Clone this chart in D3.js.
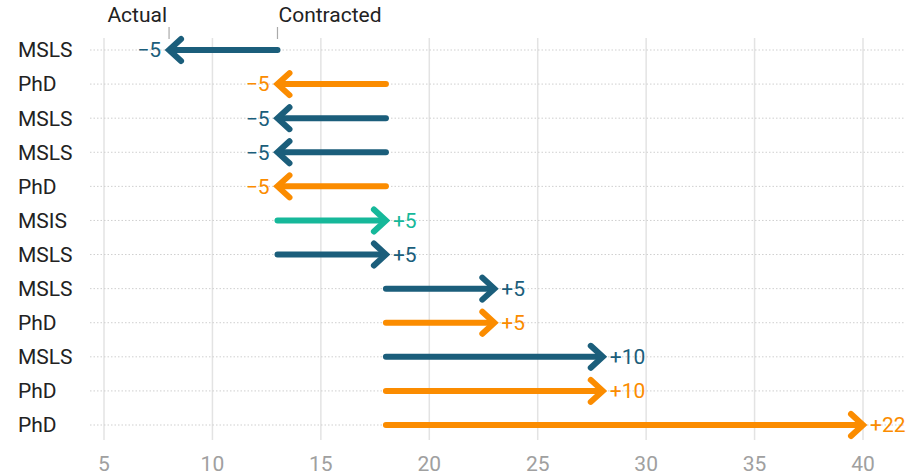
<!DOCTYPE html>
<html><head><meta charset="utf-8">
<script src="https://cdn.jsdelivr.net/npm/d3@7"></script>
<style>body{margin:0;background:#fff;font-family:Roboto,sans-serif;}</style>
</head><body><svg id="c" width="923" height="475"></svg>
<script>
const programs = ["MSLS","PhD","MSLS","MSLS","PhD","MSIS","MSLS","MSLS","PhD","MSLS","PhD","PhD"];
const contracted = [13,18,18,18,18,13,13,18,18,18,18,18];
const actual = [8,13,13,13,13,18,18,23,23,28,28,40];
const xTicks = [5,10,15,20,25,30,35,40];
const colors = {MSLS:"#1b5e7b", PhD:"#fb8c00", MSIS:"#16b89a"};
const FS = 21;

const svg = d3.select("#c");
const x = d3.scaleLinear().domain([5,40]).range([104,863]);
const y = d3.scalePoint().domain(d3.range(programs.length)).range([50,425]);

// vertical grid
svg.append("g").selectAll("line").data(xTicks).join("line")
  .attr("x1",d=>x(d)).attr("x2",d=>x(d)).attr("y1",38).attr("y2",440)
  .attr("stroke","#e3e3e3").attr("stroke-width",1.5);
// x labels
svg.append("g").selectAll("text").data(xTicks).join("text")
  .attr("x",d=>x(d)).attr("y",471).attr("text-anchor","middle")
  .attr("font-size",FS).attr("fill","#a0a0a0").text(d=>d);
// row dotted lines
svg.append("g").selectAll("line").data(programs).join("line")
  .attr("x1",90).attr("x2",905).attr("y1",(d,i)=>y(i)).attr("y2",(d,i)=>y(i))
  .attr("stroke","#cfcfcf").attr("stroke-width",1).attr("stroke-dasharray","1.5,2");
// row labels
svg.append("g").selectAll("text").data(programs).join("text")
  .attr("x",18).attr("y",(d,i)=>y(i)).attr("dy","0.35em")
  .attr("font-size",FS).attr("fill","#222").text(d=>d);

// annotation
const a0 = 0;
svg.append("line").attr("x1",x(actual[a0])).attr("x2",x(actual[a0])).attr("y1",27).attr("y2",39).attr("stroke","#aaa").attr("stroke-width",1.2);
svg.append("line").attr("x1",x(contracted[a0])).attr("x2",x(contracted[a0])).attr("y1",27).attr("y2",39).attr("stroke","#aaa").attr("stroke-width",1.2);
svg.append("text").attr("x",x(actual[a0])-2).attr("y",22).attr("text-anchor","end").attr("font-size",FS).attr("fill","#222").text("Actual");
svg.append("text").attr("x",x(contracted[a0])+1).attr("y",22).attr("text-anchor","start").attr("font-size",FS).attr("fill","#222").text("Contracted");

// arrows
const g = svg.append("g").selectAll("g").data(programs).join("g");
g.append("line")
  .attr("x1",(d,i)=>x(contracted[i])).attr("x2",(d,i)=>x(actual[i]) + (actual[i]>contracted[i]?-2:2))
  .attr("y1",(d,i)=>y(i)).attr("y2",(d,i)=>y(i))
  .attr("stroke",d=>colors[d]).attr("stroke-width",6).attr("stroke-linecap","round");
g.append("path")
  .attr("d",(d,i)=>{
    const dir = actual[i]>contracted[i]?1:-1;
    const tx = x(actual[i]), ty=y(i);
    return `M${tx-dir*12},${ty-11}L${tx},${ty}L${tx-dir*12},${ty+11}`;
  })
  .attr("fill","none").attr("stroke",d=>colors[d]).attr("stroke-width",6)
  .attr("stroke-linecap","round").attr("stroke-linejoin","miter");
g.append("text")
  .attr("x",(d,i)=>x(actual[i]) + (actual[i]>contracted[i]?7:-8))
  .attr("y",(d,i)=>y(i)).attr("dy","0.35em")
  .attr("text-anchor",(d,i)=>actual[i]>contracted[i]?"start":"end")
  .attr("font-size",FS).attr("fill",d=>colors[d])
  .text((d,i)=>{const v=actual[i]-contracted[i]; return (v>0?"+":"\u2212")+Math.abs(v);});
</script></body></html>
